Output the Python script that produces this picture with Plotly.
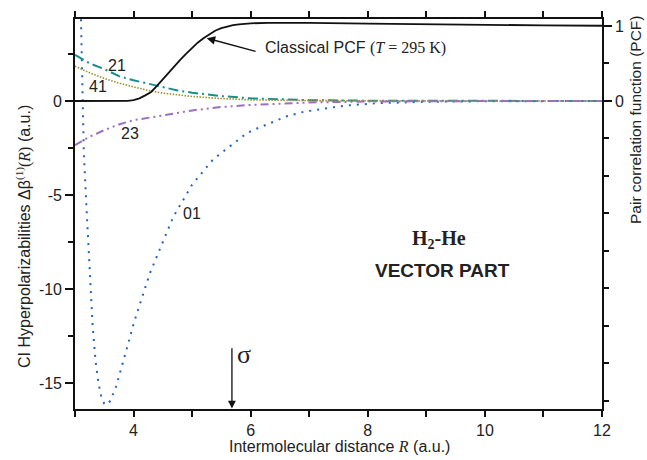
import plotly.graph_objects as go

# ---- data ----
R_01 = [3.05, 3.1, 3.125, 3.15, 3.2, 3.25, 3.3, 3.35, 3.4, 3.45, 3.5, 3.55, 3.6, 3.7, 3.8, 3.9,
        4.0, 4.1, 4.28, 4.5, 4.68, 4.85, 5.0, 5.36, 5.65, 5.94, 6.08, 6.36, 6.63, 6.91, 7.19,
        7.6, 8.15, 9.0, 10.0, 11.0, 12.0]
B_01 = [12.0, 5.0, 1.0, -2.7, -5.9, -9.3, -11.9, -13.8, -15.0, -15.75, -16.1, -16.15, -15.95,
        -15.2, -14.15, -13.0, -11.85, -10.9, -9.15, -7.5, -6.15, -5.25, -4.45, -3.1, -2.4, -1.7,
        -1.5, -1.13, -0.8, -0.57, -0.43, -0.25, -0.12, -0.04, -0.015, -0.005, 0.0]

R_21 = [3.0, 3.25, 3.5, 3.75, 4.0, 4.25, 4.5, 4.75, 5.0, 5.5, 6.0, 6.5, 7.0, 8.0, 9.0, 10.0, 12.0]
B_21 = [2.45, 2.0, 1.7, 1.32, 1.1, 0.92, 0.72, 0.56, 0.44, 0.26, 0.14, 0.08, 0.045, 0.015, 0.005, 0.002, 0.0]

R_41 = [3.0, 3.25, 3.5, 3.75, 4.0, 4.25, 4.5, 5.0, 5.5, 6.0, 7.0, 8.0, 10.0, 12.0]
B_41 = [1.85, 1.5, 1.2, 0.95, 0.75, 0.56, 0.42, 0.24, 0.13, 0.06, 0.02, 0.005, 0.001, 0.0]

R_23 = [3.0, 3.25, 3.5, 3.75, 4.0, 4.25, 4.5, 5.0, 5.5, 6.0, 6.5, 7.0, 8.0, 9.0, 10.0, 12.0]
B_23 = [-2.35, -1.9, -1.55, -1.25, -1.02, -0.88, -0.77, -0.5, -0.32, -0.21, -0.13, -0.08, -0.03, -0.01, -0.003, 0.0]

R_PCF = [3.0, 3.8, 3.9, 4.0, 4.1, 4.2, 4.3, 4.4, 4.5, 4.6, 4.7, 4.8, 4.9, 5.0, 5.1, 5.2, 5.3,
         5.4, 5.5, 5.6, 5.7, 5.8, 6.0, 6.3, 6.6, 7.0, 8.0, 9.0, 10.0, 11.0, 12.0]
PCF = [0.0, 0.0, 0.002, 0.01, 0.035, 0.075, 0.12, 0.2, 0.29, 0.38, 0.46, 0.55, 0.63, 0.71,
       0.78, 0.84, 0.89, 0.94, 0.97, 0.995, 1.01, 1.022, 1.035, 1.042, 1.044, 1.042, 1.032,
       1.022, 1.015, 1.008, 1.003]

X_TICKS = [4, 6, 8, 10, 12]
Y_TICKS = [-15, -10, -5, 0]
Y_TICK_LABELS = ["-15", "-10", "-5", "0"]
PCF_TICKS = [0, 1]
SIGMA_R = 5.68

SANS = "Liberation Sans, Arial, sans-serif"
SERIF = "Liberation Serif, Times New Roman, serif"

fig = go.Figure()

fig.add_trace(go.Scatter(x=R_01, y=B_01, mode="lines", yaxis="y",
                         line=dict(color="#2463bd", width=2, dash="2px,6px")))
fig.add_trace(go.Scatter(x=R_21, y=B_21, mode="lines", yaxis="y",
                         line=dict(color="#1a8c8c", width=2, dash="10px,4px,2px,4px")))
fig.add_trace(go.Scatter(x=R_41, y=B_41, mode="lines", yaxis="y",
                         line=dict(color="#9c9030", width=1.6, dash="1.5px,1.5px")))
fig.add_trace(go.Scatter(x=R_23, y=B_23, mode="lines", yaxis="y",
                         line=dict(color="#9b6fc2", width=2, dash="8px,4px,2px,4px,2px,4px")))
fig.add_trace(go.Scatter(x=R_PCF, y=PCF, mode="lines", yaxis="y2",
                         line=dict(color="#111111", width=1.8)))

tickfont = dict(family=SANS, size=16, color="#222")

fig.update_layout(
    width=647, height=460,
    margin=dict(l=75, r=45, t=19, b=51),
    paper_bgcolor="white", plot_bgcolor="white",
    showlegend=False,
    xaxis=dict(range=[3, 12], tickvals=X_TICKS, ticks="outside", ticklen=6, tickwidth=1.5,
               tickcolor="#111", showline=True, linecolor="#111", linewidth=1.6,
               mirror="allticks", showgrid=False, zeroline=False, tickfont=tickfont,
               minor=dict(dtick=1, tick0=3, ticks="outside", ticklen=4, tickwidth=1.5,
                          tickcolor="#111", showgrid=False)),
    yaxis=dict(range=[-16.38, 4.36], tickvals=Y_TICKS, ticktext=Y_TICK_LABELS,
               ticks="outside", ticklen=8, tickwidth=1.5,
               tickcolor="#111", showline=True, linecolor="#111", linewidth=1.6,
               showgrid=False, zeroline=False, tickfont=tickfont,
               minor=dict(dtick=2.5, tick0=0, ticks="outside", ticklen=5, tickwidth=1.5,
                          tickcolor="#111", showgrid=False)),
    yaxis2=dict(range=[-4.107, 1.093], overlaying="y", side="right", tickvals=PCF_TICKS,
                ticks="outside", ticklen=8, tickwidth=1.5, tickcolor="#111",
                showline=True, linecolor="#111", linewidth=1.6,
                showgrid=False, zeroline=False, tickfont=tickfont,
                minor=dict(dtick=0.5, tick0=0, ticks="outside", ticklen=5, tickwidth=1.5,
                           tickcolor="#111", showgrid=False)),
)

# plot area in window px: x 75..602 (width 527), y 19..409 (height 390)
ann = []
# axis titles
ann.append(dict(xref="paper", yref="paper", x=(339 - 75) / 527, y=(409 - 446) / 390, showarrow=False,
                text="Intermolecular distance <span style='font-family:Liberation Serif'><i>R</i></span> (a.u.)",
                font=dict(family=SANS, size=16, color="#222"), xanchor="center", yanchor="middle"))
ann.append(dict(xref="paper", yref="paper", x=(23 - 75) / 527, y=(409 - 237) / 390, showarrow=False,
                textangle=-90,
                text="CI Hyperpolarizabilities Δβ<span style='font-family:Liberation Serif'><sup>(1)</sup>(<i>R</i>)</span> (a.u.)",
                font=dict(family=SANS, size=16, color="#222"), xanchor="center", yanchor="middle"))
ann.append(dict(xref="paper", yref="paper", x=(636 - 75) / 527, y=(409 - 120) / 390, showarrow=False,
                textangle=-90,
                text="Pair correlation function (PCF)",
                font=dict(family=SANS, size=15.5, color="#222"), xanchor="center", yanchor="middle"))
# curve labels
for txt, xx, yy in [("21", 3.72, 1.91), ("41", 3.40, 0.76), ("23", 3.94, -1.72), ("01", 5.0, -5.97)]:
    ann.append(dict(x=xx, y=yy, xref="x", yref="y", text=txt, showarrow=False,
                    font=dict(family=SANS, size=16, color="#222")))
# PCF label with arrow
ann.append(dict(x=5.25, y=3.34, xref="x", yref="y", ax=6.11, ay=2.62, axref="x", ayref="y",
                text="", showarrow=True, arrowhead=2, arrowsize=1.2, arrowwidth=1.4, arrowcolor="#111"))
ann.append(dict(x=6.21, y=2.82, xref="x", yref="y", xanchor="left", showarrow=False,
                text="Classical PCF <span style='font-family:Liberation Serif'>(<i>T</i> = 295 K)</span>",
                font=dict(family=SANS, size=16, color="#222")))
# sigma marker
ann.append(dict(x=SIGMA_R, y=-16.35, xref="x", yref="y", ax=SIGMA_R, ay=-13.07, axref="x", ayref="y",
                text="", showarrow=True, arrowhead=2, arrowsize=1.2, arrowwidth=1.3, arrowcolor="#111"))
ann.append(dict(x=5.88, y=-13.5, xref="x", yref="y", text="σ", showarrow=False,
                font=dict(family=SERIF, size=26, color="#222")))
# title block
ann.append(dict(x=9.22, y=-7.39, xref="x", yref="y", text="<b>H<sub>2</sub>-He</b>", showarrow=False,
                font=dict(family=SERIF, size=20, color="#222")))
ann.append(dict(x=9.27, y=-9.04, xref="x", yref="y", text="<b>VECTOR PART</b>", showarrow=False,
                font=dict(family=SANS, size=19, color="#222")))

fig.update_layout(annotations=ann)
fig.write_html("out.html",
               config={"displayModeBar": False},
               post_script="document.body.style.margin='0';document.body.style.overflow='hidden';")
